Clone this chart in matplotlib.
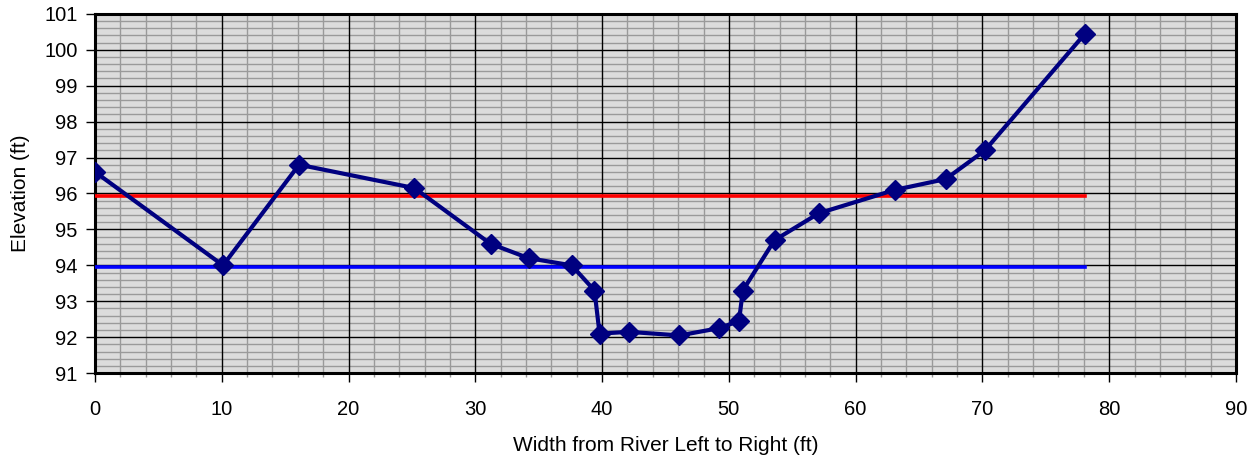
import numpy as np
import matplotlib.pyplot as plt
from matplotlib.ticker import MultipleLocator

plt.rcParams['font.family'] = ['Liberation Sans', 'DejaVu Sans']

# cross-section survey points
width_ft = [0, 10.1, 16.1, 25.2, 31.2, 34.2, 37.6, 39.4, 39.8, 42.1, 46.1,
            49.2, 50.8, 51.1, 53.6, 57.1, 63.1, 67.1, 70.2, 78.1]
elev_ft = [96.6, 94.0, 96.8, 96.15, 94.6, 94.2, 94.0, 93.3, 92.1, 92.15, 92.05,
           92.25, 92.45, 93.3, 94.7, 95.45, 96.1, 96.4, 97.2, 100.45]

red_x = [0, 78.1]
red_y = [95.92, 95.92]
blue_x = [0, 78.1]
blue_y = [93.95, 93.95]

fig = plt.figure(figsize=(12.58, 4.59), dpi=100)
pos = [0.0755, 0.187, 0.907, 0.783]

# back axes: fill + minor grid
ax = fig.add_axes(pos)
ax.set_facecolor('#dcdcdc')
ax.set_xlim(0, 90)
ax.set_ylim(91, 101)
ax.xaxis.set_major_locator(MultipleLocator(10))
ax.xaxis.set_minor_locator(MultipleLocator(2))
ax.yaxis.set_major_locator(MultipleLocator(1))
ax.yaxis.set_minor_locator(MultipleLocator(0.2))
ax.grid(which='minor', color='#9a9a9a', lw=1.0)
ax.tick_params(which='both', length=0, labelbottom=False, labelleft=False)
for s in ax.spines.values():
    s.set_visible(False)

# front axes: major grid, data, frame
ax2 = fig.add_axes(pos, sharex=ax, sharey=ax)
ax2.patch.set_visible(False)
ax2.xaxis.set_minor_locator(MultipleLocator(2))
ax2.grid(which='major', color='black', lw=1.0)
ax2.set_axisbelow(True)

ax2.plot(red_x, red_y, color='#ff0000', lw=2.6, zorder=3)
ax2.plot(blue_x, blue_y, color='#0000ff', lw=2.6, zorder=3)
ax2.plot(width_ft, elev_ft, color='#000080', lw=3.0, marker='D', markersize=10, zorder=4)

for s in ax2.spines.values():
    s.set_linewidth(2.2)
    s.set_color('black')

ax2.tick_params(which='major', direction='out', length=6.5, width=1, labelsize=14.5, color='black')
ax2.tick_params(axis='x', which='major', pad=13)
ax2.tick_params(axis='y', which='major', pad=6)
ax2.tick_params(axis='x', which='minor', direction='out', length=3, width=1, color='#9a9a9a')
ax2.tick_params(axis='y', which='minor', length=0)

ax2.set_xlabel('Width from River Left to Right (ft)', fontsize=15, labelpad=12)
ax2.set_ylabel('Elevation (ft)', fontsize=15, labelpad=10)

fig.savefig('out.png', dpi=100)
